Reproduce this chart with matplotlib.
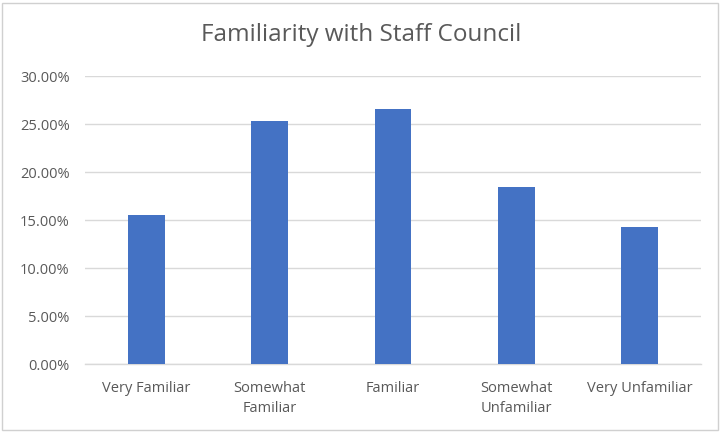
import matplotlib
matplotlib.use("Agg")
import matplotlib.pyplot as plt
from matplotlib.patches import Rectangle
from matplotlib.ticker import PercentFormatter

categories = ["Very Familiar", "Somewhat\nFamiliar", "Familiar", "Somewhat\nUnfamiliar", "Very Unfamiliar"]
values = [15.55, 25.34, 26.60, 18.47, 14.23]
yticks = [0, 5, 10, 15, 20, 25, 30]

text_color = "#595959"
bar_color = "#4472C4"
grid_color = "#D9D9D9"

plt.rcParams["font.family"] = ["Open Sans", "DejaVu Sans"]

fig = plt.figure(figsize=(7.22, 4.32), dpi=100)
ax = fig.add_axes([85 / 722, 1 - 364 / 432, (701 - 85) / 722, (364 - 76) / 432])

x = range(len(categories))
ax.bar(x, values, width=0.30, color=bar_color, zorder=3)

ax.set_xlim(-0.5, len(categories) - 0.5)
ax.set_ylim(0, 30)
ax.set_yticks(yticks)
ax.yaxis.set_major_formatter(PercentFormatter(decimals=2))
ax.set_xticks(list(x))
ax.set_xticklabels(categories, linespacing=1.45)

ax.grid(axis="y", color=grid_color, linewidth=1, zorder=0)
for side in ["top", "right", "left"]:
    ax.spines[side].set_visible(False)
ax.spines["bottom"].set_color(grid_color)
ax.spines["bottom"].set_linewidth(1)
ax.tick_params(axis="both", length=0, colors=text_color, labelsize=10.5)
ax.tick_params(axis="x", pad=12)
ax.tick_params(axis="y", pad=11)
for lbl in ax.get_xticklabels():
    lbl.set_verticalalignment("top")

fig.text(0.5, 1 - 35 / 432, "Familiarity with Staff Council", ha="center", va="center",
         fontsize=17.5, color=text_color)

fig.patches.append(Rectangle((2 / 722, 2 / 432), 716 / 722, 427 / 432, transform=fig.transFigure,
                             fill=False, edgecolor="#D0D0D0", linewidth=1))

fig.savefig("out.png", dpi=100)
plt.close(fig)
